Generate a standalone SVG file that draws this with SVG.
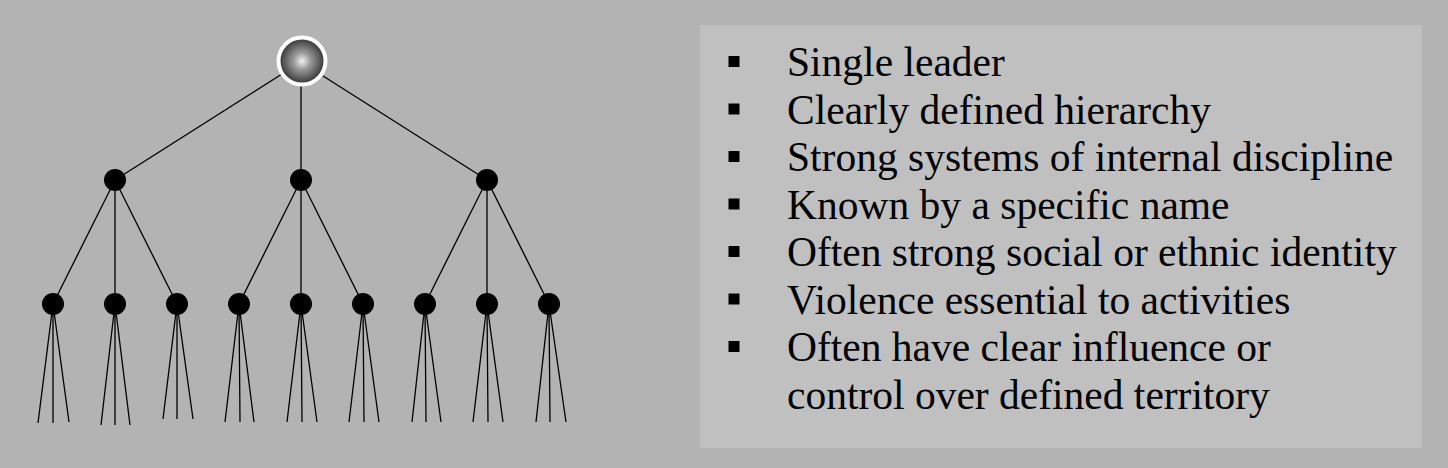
<svg xmlns="http://www.w3.org/2000/svg" width="1448" height="468" viewBox="0 0 1448 468">
<defs>
<style>
.edge{stroke:#000;stroke-width:1.3;fill:none}
.node{fill:#000}
.bul{fill:#000}
.txt{font-family:"Liberation Serif","Times New Roman",serif;font-size:41.5px;fill:#000}
</style>
<radialGradient id="g" cx="0.5" cy="0.5" r="0.5">
<stop offset="0" stop-color="#f2f2f2"/>
<stop offset="0.35" stop-color="#9c9c9c"/>
<stop offset="0.75" stop-color="#5a5a5a"/>
<stop offset="1" stop-color="#2e2e2e"/>
</radialGradient>
</defs>
<rect x="0" y="0" width="1448" height="468" fill="#b3b3b3"/>
<g id="connectors">
<line class="edge" x1="301" y1="62" x2="115" y2="180"/>
<line class="edge" x1="301" y1="62" x2="301" y2="180"/>
<line class="edge" x1="301" y1="62" x2="487" y2="180"/>
<line class="edge" x1="115" y1="180" x2="53" y2="304"/>
<line class="edge" x1="115" y1="180" x2="115" y2="304"/>
<line class="edge" x1="115" y1="180" x2="177" y2="304"/>
<line class="edge" x1="301" y1="180" x2="239" y2="304"/>
<line class="edge" x1="301" y1="180" x2="301" y2="304"/>
<line class="edge" x1="301" y1="180" x2="363" y2="304"/>
<line class="edge" x1="487" y1="180" x2="425" y2="304"/>
<line class="edge" x1="487" y1="180" x2="487" y2="304"/>
<line class="edge" x1="487" y1="180" x2="549" y2="304"/>
<path class="edge" d="M53 304L38 423M53 304L53 423M53 304L69 422"/>
<path class="edge" d="M115 304L101 425M115 304L115 425M115 304L130 425"/>
<path class="edge" d="M177 304L163 419M177 304L177 419M177 304L193 419"/>
<path class="edge" d="M239 304L225 422M239 304L240 422M239 304L254 422"/>
<path class="edge" d="M301 304L287 422M301 304L302 422M301 304L317 422"/>
<path class="edge" d="M363 304L349 422M363 304L364 422M363 304L379 422"/>
<path class="edge" d="M425 304L412 422M425 304L426 422M425 304L441 422"/>
<path class="edge" d="M487 304L473 422M487 304L488 422M487 304L503 422"/>
<path class="edge" d="M549 304L536 422M549 304L550 422M549 304L566 422"/>
</g>
<g id="leader"><circle cx="302" cy="61" r="23.5" fill="url(#g)" stroke="#fff" stroke-width="4"/></g>
<g id="lieutenants">
<circle class="node" cx="115" cy="180" r="11"/>
<circle class="node" cx="301" cy="180" r="11"/>
<circle class="node" cx="487" cy="180" r="11"/>
</g>
<g id="members">
<circle class="node" cx="53" cy="304" r="11"/>
<circle class="node" cx="115" cy="304" r="11"/>
<circle class="node" cx="177" cy="304" r="11"/>
<circle class="node" cx="239" cy="304" r="11"/>
<circle class="node" cx="301" cy="304" r="11"/>
<circle class="node" cx="363" cy="304" r="11"/>
<circle class="node" cx="425" cy="304" r="11"/>
<circle class="node" cx="487" cy="304" r="11"/>
<circle class="node" cx="549" cy="304" r="11"/>
</g>
<g id="characteristics">
<rect x="700" y="25" width="722" height="423" fill="#c0c0c0"/>
<rect class="bul" x="728.5" y="56" width="11" height="11"/>
<rect class="bul" x="728.5" y="103.5" width="11" height="11"/>
<rect class="bul" x="728.5" y="151" width="11" height="11"/>
<rect class="bul" x="728.5" y="198.5" width="11" height="11"/>
<rect class="bul" x="728.5" y="246" width="11" height="11"/>
<rect class="bul" x="728.5" y="293.5" width="11" height="11"/>
<rect class="bul" x="728.5" y="341" width="11" height="11"/>
<text class="txt" x="787" y="76">Single leader</text>
<text class="txt" x="787" y="123.5">Clearly defined hierarchy</text>
<text class="txt" x="787" y="171">Strong systems of internal discipline</text>
<text class="txt" x="787" y="218.5">Known by a specific name</text>
<text class="txt" x="787" y="266">Often strong social or ethnic identity</text>
<text class="txt" x="787" y="313.5">Violence essential to activities</text>
<text class="txt" x="787" y="361">Often have clear influence or</text>
<text class="txt" x="787" y="408.5">control over defined territory</text>
</g>
</svg>
